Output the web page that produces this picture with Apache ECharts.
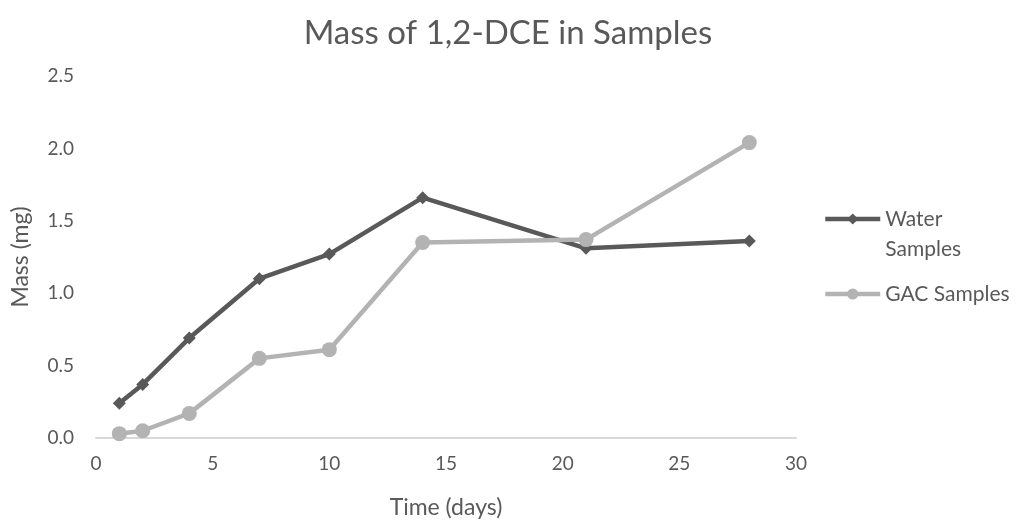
<!DOCTYPE html>
<html>
<head>
<meta charset="utf-8">
<script src="https://cdn.jsdelivr.net/npm/echarts@6/dist/echarts.min.js"></script>
<style>
  html, body { margin: 0; padding: 0; background: #fff; }
  #chart { width: 1016px; height: 529px; }
</style>
</head>
<body>
<div id="chart"></div>
<script>
// Sampling days and measured mass of 1,2-DCE (mg)
const days = [1, 2, 4, 7, 10, 14, 21, 28];
const waterMass = [0.24, 0.37, 0.69, 1.10, 1.27, 1.66, 1.31, 1.36];
const gacMass = [0.03, 0.05, 0.17, 0.55, 0.61, 1.35, 1.37, 2.04];
const seriesNames = ['Water Samples', 'GAC Samples'];

const FONT = 'Lato';
const TEXT = '#595959';

const pairs = (xs, ys) => xs.map((x, i) => [x, ys[i]]);

const chart = echarts.init(document.getElementById('chart'));
chart.setOption({
  backgroundColor: '#ffffff',
  animation: false,
  title: {
    text: 'Mass of 1,2-DCE in Samples',
    left: 'center',
    top: 12,
    textStyle: { fontFamily: FONT, fontSize: 33, fontWeight: 'normal', color: TEXT }
  },
  legend: {
    orient: 'vertical',
    left: 818,
    top: 169,
    itemWidth: 55,
    itemHeight: 14,
    itemGap: 15,
    data: seriesNames,
    formatter: name => name === 'Water Samples' ? '\nWater\nSamples' : name,
    lineStyle: { width: 4.5 },
    textStyle: { fontFamily: FONT, fontSize: 21, color: TEXT, lineHeight: 30 }
  },
  grid: { left: 96, right: 220, top: 76, bottom: 91 },
  xAxis: {
    type: 'value',
    min: 0,
    max: 30,
    interval: 5,
    name: 'Time (days)',
    nameLocation: 'middle',
    nameGap: 58,
    nameTextStyle: { fontFamily: FONT, fontSize: 23, color: TEXT },
    axisLine: { lineStyle: { color: '#d9d9d9', width: 2 } },
    axisTick: { show: false },
    splitLine: { show: false },
    axisLabel: { fontFamily: FONT, fontSize: 19, color: TEXT, margin: 16 }
  },
  yAxis: {
    type: 'value',
    min: 0,
    max: 2.5,
    interval: 0.5,
    name: 'Mass (mg)',
    nameLocation: 'middle',
    nameGap: 64,
    nameTextStyle: { fontFamily: FONT, fontSize: 23, color: TEXT },
    axisLine: { show: false },
    axisTick: { show: false },
    splitLine: { show: false },
    axisLabel: {
      fontFamily: FONT, fontSize: 19, color: TEXT, margin: 22,
      formatter: v => v.toFixed(1)
    }
  },
  series: [
    {
      name: seriesNames[0],
      type: 'line',
      data: pairs(days, waterMass),
      symbol: 'diamond',
      symbolSize: 13,
      z: 3,
      lineStyle: { color: '#595959', width: 4.5 },
      itemStyle: { color: '#595959' }
    },
    {
      name: seriesNames[1],
      type: 'line',
      data: pairs(days, gacMass),
      symbol: 'circle',
      symbolSize: 15,
      z: 4,
      lineStyle: { color: '#b3b3b3', width: 4.5 },
      itemStyle: { color: '#b3b3b3' }
    }
  ]
});
</script>
</body>
</html>
